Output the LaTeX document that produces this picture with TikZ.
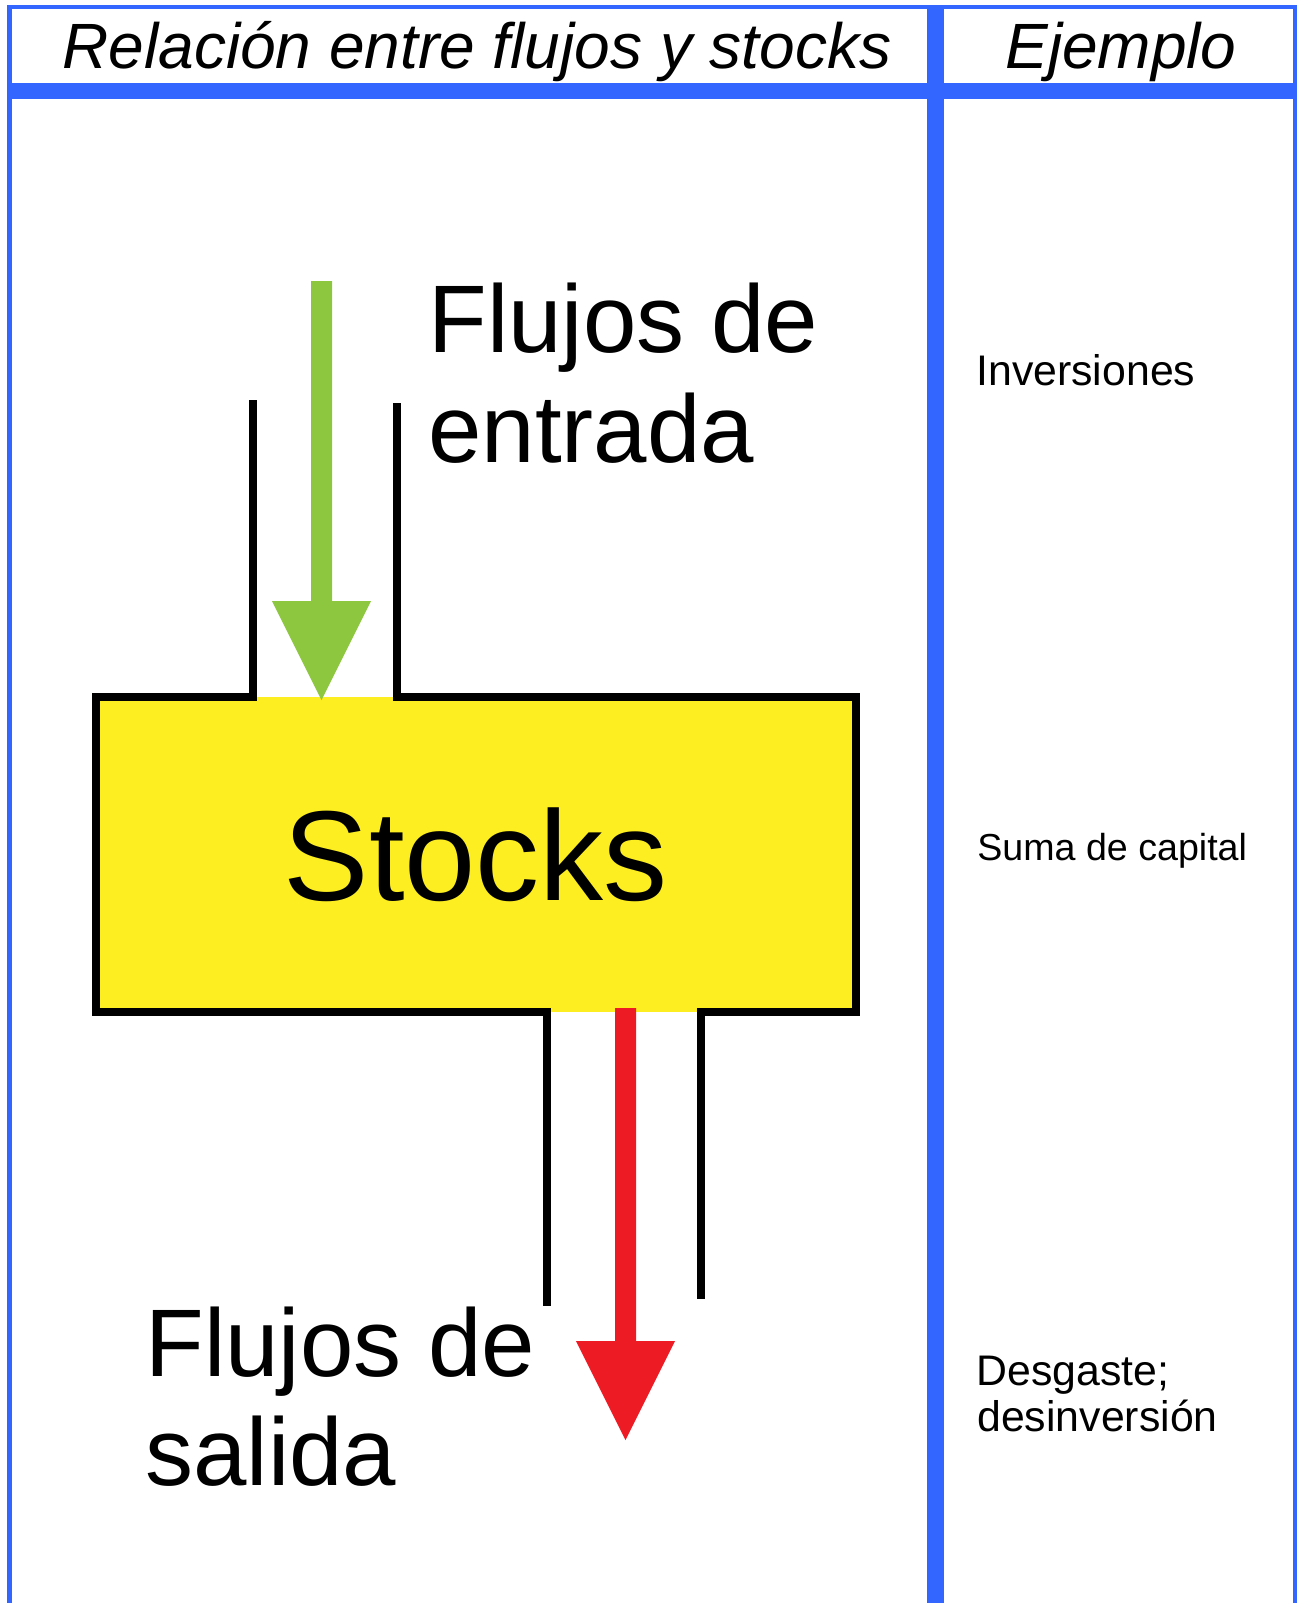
\documentclass[tikz,border=0pt]{standalone}
\usepackage{fontspec}
\setmainfont{Liberation Sans}
\definecolor{frameblue}{RGB}{51,102,255}
\definecolor{ingreen}{RGB}{141,198,63}
\definecolor{outred}{RGB}{237,28,36}
\definecolor{stockyellow}{RGB}{252,238,33}
\begin{document}
\begin{tikzpicture}[x=0.5pt,y=-0.5pt,
  bluerule/.style={draw=frameblue,line cap=butt},
  headtext/.style={inner sep=0pt,anchor=base,font=\fontsize{32}{38}\selectfont\itshape},
  bigtext/.style={inner sep=0pt,anchor=base west,font=\fontsize{48}{55}\selectfont},
  smalltext/.style={inner sep=0pt,anchor=base west,font=\fontsize{21.4}{24}\selectfont},
  stockbox/.style={fill=stockyellow,inner sep=0pt,minimum width=379.75pt,minimum height=157.5pt,font=\fontsize{64}{70}\selectfont},
  wall/.style={draw=black,line width=4pt,line join=miter,line cap=butt}
]
\useasboundingbox (0,0) rectangle (1297,1603);
% frame
\draw[bluerule,line width=2.5pt] (9.5,5) -- (9.5,1603);
\draw[bluerule,line width=2.25pt] (7,7) -- (1297,7);
\draw[bluerule,line width=2pt] (1295,5) -- (1295,1603);
\draw[bluerule,line width=8pt] (7,91) -- (1297,91);
\draw[bluerule,line width=8.5pt] (935.5,5) -- (935.5,1603);
% headers
\node[headtext] (h1) at (477,68) {Relación entre flujos y stocks};
\node[headtext] (h2) at (1121,68) {Ejemplo};
% stock box
\node[stockbox] (stock) at (475.75,854.5) {Stocks};
\draw[wall] (252.5,400) -- (252.5,697) -- (96,697) -- (96,1012) -- (546.5,1012) -- (546.5,1306);
\draw[wall] (397,403) -- (397,697) -- (855.5,697) -- (855.5,1012) -- (700.5,1012) -- (700.5,1299);
% flows
\coordinate (inStart) at (321.5,281);
\coordinate (inEnd) at (321.5,700);
\fill[ingreen] (inStart) ++(-10.5,0) -- ++(21,0) -- ++(0,320) -- ++(39,0) -- (inEnd) -- ++(-49.5,-99) -- ++(39,0) -- cycle;
\coordinate (outStart) at (625.5,1008);
\coordinate (outEnd) at (625.5,1440);
\fill[outred] (outStart) ++(-10.5,0) -- ++(21,0) -- ++(0,333) -- ++(39,0) -- (outEnd) -- ++(-49.5,-99) -- ++(39,0) -- cycle;
% labels
\node[bigtext] (in1) at (428,352) {Flujos de};
\node[bigtext] (in2) at (428,462) {entrada};
\node[bigtext] (out1) at (145,1376) {Flujos de};
\node[bigtext] (out2) at (145,1485) {salida};
% examples
\node[smalltext] (ex1) at (976,385) {Inversiones};
\node[smalltext,font=\fontsize{18.8}{22}\selectfont] (ex2) at (977,860) {Suma de capital};
\node[smalltext] (ex3a) at (976,1385) {Desgaste;};
\node[smalltext] (ex3b) at (977,1431) {desinversión};
\end{tikzpicture}
\end{document}
